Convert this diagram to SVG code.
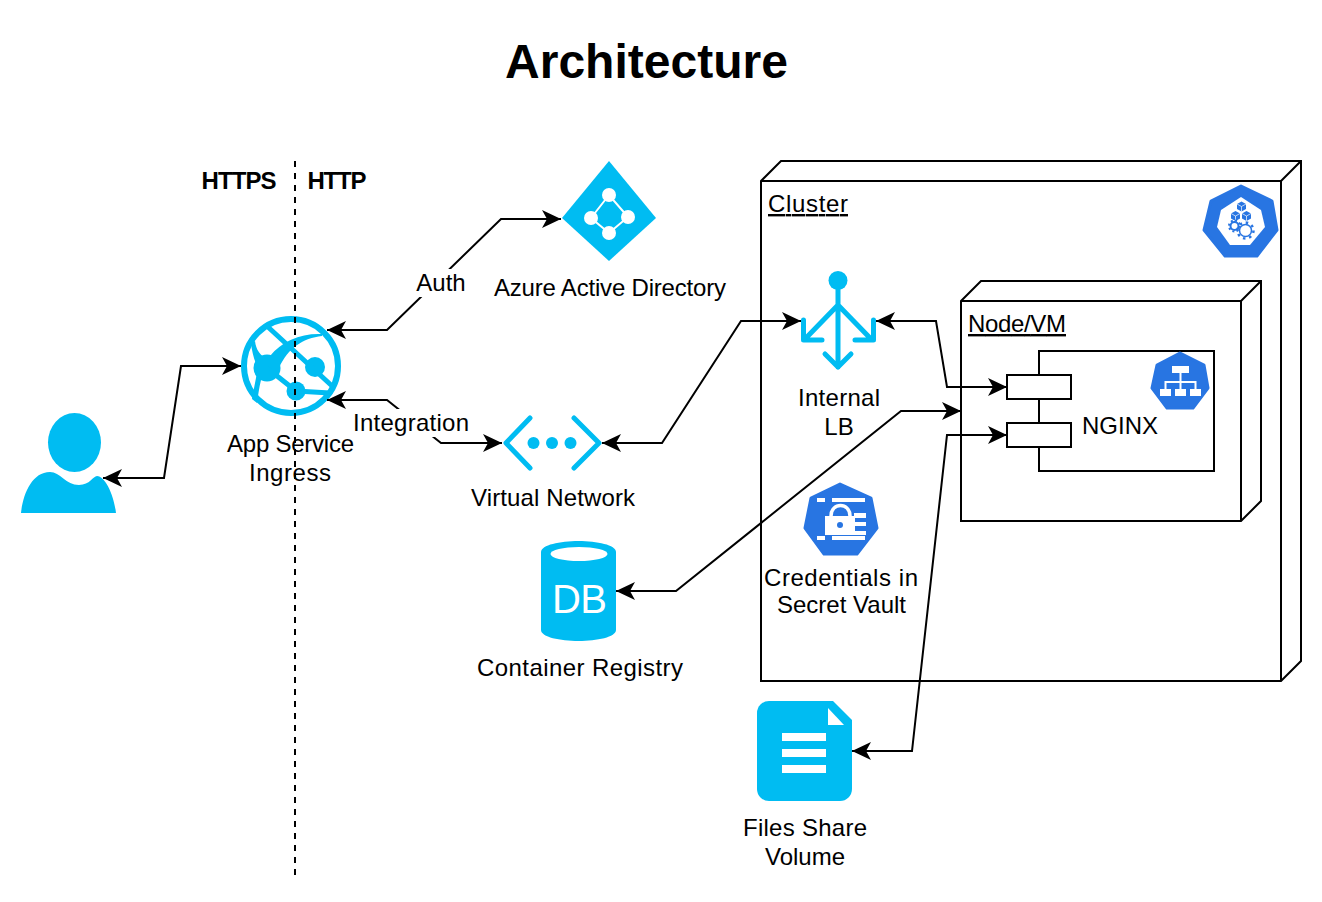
<svg xmlns="http://www.w3.org/2000/svg" width="1322" height="902" viewBox="0 0 1322 902">
<style>
text{font-family:"Liberation Sans",Arial,sans-serif;font-size:24px;fill:#000}
.c{text-anchor:middle}
.b{font-weight:bold}
.u{text-decoration:underline}
.box{fill:#fff;stroke:#000;stroke-width:2}
.open{fill:none;stroke:#000;stroke-width:2}
.edge{fill:none;stroke:#000;stroke-width:2;marker-start:url(#ah);marker-end:url(#ah)}
.az{fill:#00BCF2}
.azl{fill:none;stroke:#00BCF2;stroke-linecap:round;stroke-linejoin:round}
.k8s{fill:#2875E2;stroke:#2875E2;stroke-width:3;stroke-linejoin:round}
.kf{fill:#2875E2}
.w{fill:#fff}
.wl{fill:none;stroke:#fff;stroke-width:2}
</style>
<defs>
<marker id="ah" markerUnits="userSpaceOnUse" markerWidth="22" markerHeight="20" refX="20" refY="10" orient="auto-start-reverse" viewBox="0 0 22 20">
<path d="M1 1L20 10L1 19L6 10Z" fill="#000"/>
</marker>
</defs>
<rect width="1322" height="902" fill="#fff"/>
<text id="title" class="c b" x="646.500" y="78" style="font-size:48px" textLength="283" lengthAdjust="spacing">Architecture</text>

<g id="cluster">
<path class="box" d="M761 181L781 161H1301V661L1281 681H761Z"/>
<path class="open" d="M761 181H1281V681M1281 181L1301 161"/>
<text class="u" x="768" y="212" textLength="80">Cluster</text>
</g>
<g id="cluster-icon">
<path class="k8s" d="M1241 186L1272 201L1277 230L1257 256H1225L1204 230L1211 201Z"/>
<path class="w" d="M1241 197L1261 210L1265 227L1250 245H1230L1217 227L1221 210Z"/>
<g class="kf">
<path d="M1241.500 201.500L1246 204V209L1241.500 211.500L1237 209V204Z"/>
<path d="M1235.500 211L1240 213.500V218.500L1235.500 221L1231 218.500V213.500Z"/>
<path d="M1246.500 211L1251 213.500V218.500L1246.500 221L1242 218.500V213.500Z"/>
</g>
<path class="wl" style="stroke-width:.7" d="M1237 204L1241.500 206.500L1246 204M1241.500 206.500V211.500M1231 213.500L1235.500 216L1240 213.500M1235.500 216V221M1242 213.500L1246.500 216L1251 213.500M1246.500 216V221"/>
<circle cx="1234.500" cy="226" r="4" fill="#fff" stroke="#2875E2" stroke-width="2"/>
<circle cx="1234.500" cy="226" r="5.500" fill="none" stroke="#2875E2" stroke-width="2" stroke-dasharray="2 2.300"/>
<circle cx="1245.500" cy="230.500" r="6" fill="#fff" stroke="#2875E2" stroke-width="1.500"/>
<circle cx="1245.500" cy="230.500" r="8" fill="none" stroke="#2875E2" stroke-width="2.500" stroke-dasharray="2.500 3.780"/>
</g>
<g id="node-vm">
<path class="box" d="M961 301L981 281H1261V501L1241 521H961Z"/>
<path class="open" d="M961 301H1241V521M1241 301L1261 281"/>
<text class="u" x="968" y="332" textLength="98">Node/VM</text>
</g>
<g id="nginx">
<rect class="box" x="1039" y="351" width="175" height="120"/>
<rect class="box" x="1007" y="375" width="64" height="24"/>
<rect class="box" x="1007" y="423" width="64" height="24"/>
<text x="1082" y="434">NGINX</text>
</g>
<g id="nginx-icon">
<path class="k8s" d="M1180 353L1204 365L1208 388L1193 408H1167L1152 388L1157 365Z"/>
<rect class="w" x="1172" y="366" width="17" height="7"/>
<rect class="w" x="1160" y="389" width="11" height="7"/>
<rect class="w" x="1175" y="389" width="11" height="7"/>
<rect class="w" x="1190" y="389" width="11" height="7"/>
<path class="wl" d="M1180.500 373V389M1165.500 389V382H1195.500V389"/>
</g>
<g id="secret-icon">
<path class="k8s" d="M840 484L871 498L877 528L857 554H824L805 528L811 498Z"/>
<rect class="w" x="817" y="498" width="8" height="4"/>
<rect class="w" x="832" y="498" width="33" height="4"/>
<rect class="w" x="817" y="536" width="8" height="4"/>
<rect class="w" x="832" y="536" width="33" height="4"/>
<path d="M831 516C831 502 850 502 850 516" fill="none" stroke="#fff" stroke-width="3.500"/>
<rect class="w" x="825" y="516" width="30" height="19"/>
<rect class="w" x="854" y="513" width="12" height="5"/>
<rect class="w" x="854" y="522" width="12" height="4"/>
<rect class="w" x="854" y="531" width="12" height="4"/>
<circle class="kf" cx="840" cy="525" r="3"/>
<text class="c" x="841" y="586" textLength="154">Credentials in</text>
<text class="c" x="841.500" y="613" textLength="129">Secret Vault</text>
</g>
<g id="internal-lb">
<circle class="az" cx="838" cy="280.500" r="9.500"/>
<path class="azl" stroke-width="5" d="M838 285V367M825 354L838 367L851 354M838 305L806 338M838 305L870 338M803.500 320V340H822M873.500 320V340H855"/>
<text class="c" x="839" y="406" textLength="82">Internal</text>
<text class="c" x="839" y="435">LB</text>
</g>
<g id="azure-ad">
<path class="az" d="M609 161L656 218L609 261L562 218Z"/>
<path class="wl" d="M609 195L591 218L609 233L628 217Z"/>
<circle class="w" cx="609" cy="195" r="7"/><circle class="w" cx="591" cy="218" r="7"/><circle class="w" cx="628" cy="217" r="7"/><circle class="w" cx="609" cy="233" r="7"/>
<text class="c" x="610" y="296" textLength="232">Azure Active Directory</text>
</g>
<g id="virtual-network">
<path class="azl" stroke-width="5" d="M530 418L506 443L530 468M574 418L599 443L574 468"/>
<circle class="az" cx="533.500" cy="443" r="6"/><circle class="az" cx="552" cy="443" r="6"/><circle class="az" cx="570.500" cy="443" r="6"/>
<text class="c" x="553" y="506" textLength="164">Virtual Network</text>
</g>
<g id="container-registry">
<path class="az" d="M541 552C541 545 560 541 578.500 541S616 545 616 552V630C616 637 597 641 578.500 641S541 637 541 630Z"/>
<ellipse class="w" cx="579" cy="554" rx="28.500" ry="7"/>
<text x="552" y="613" style="font-size:40px;fill:#fff" textLength="55">DB</text>
<text class="c" x="580" y="676" textLength="206">Container Registry</text>
</g>
<g id="files-share">
<path class="az" d="M769 701H833L852 720V789A12 12 0 0 1 840 801H769A12 12 0 0 1 757 789V713A12 12 0 0 1 769 701Z"/>
<path class="w" d="M828 708L844 725H828Z"/>
<rect class="w" x="782" y="733" width="44" height="8"/><rect class="w" x="782" y="749" width="44" height="8"/><rect class="w" x="782" y="765" width="44" height="8"/>
<text class="c" x="805" y="836" textLength="124">Files Share</text>
<text class="c" x="805" y="865" textLength="80">Volume</text>
</g>
<g id="user">
<ellipse class="az" cx="74.500" cy="442.500" rx="26.500" ry="29.500"/>
<path class="az" d="M21 513C23 494 32 472 50 472C60 472 66 485 79 485C90 485 93 476 97 476C105 476 114 495 116 513Z"/>
</g>
<g id="app-service">
<circle cx="291" cy="366" r="47" fill="none" stroke="#00BCF2" stroke-width="6"/>
<circle class="az" cx="267" cy="368" r="13.500"/><circle class="az" cx="315" cy="367" r="10"/><circle class="az" cx="296" cy="391" r="9.500"/>
<path class="azl" stroke-width="5" d="M268 327L331 385M267 368L296 391L330 393"/>
<path class="az" d="M251 343L255 341C256 350 260 355 268 360L270 380L261 380C259 388 258 396 257 403L252 399C254 388 256 378 258 368C254 360 252 352 251 343Z"/>
<path class="az" d="M270 356C282 341 301 333 322 334L322 336C303 338 288 348 279 368Z"/>
<text class="c" x="290.500" y="452" textLength="127">App Service</text>
<text class="c" x="290" y="481" textLength="82">Ingress</text>
</g>
<g id="boundary">
<path d="M295 161V875" stroke="#000" stroke-width="2" stroke-dasharray="6 6" fill="none"/>
<text class="c b" x="239" y="189" textLength="75">HTTPS</text>
<text class="c b" x="337" y="189" textLength="59">HTTP</text>
</g>
<g id="connectors">
<path class="edge" d="M103 478H164L181 366H241"/>
<path class="edge" d="M327 330H387L501 219H561"/>
<path class="edge" d="M327 400H387L441 443H502"/>
<path class="edge" d="M602 443H662L741 321H801"/>
<path class="edge" d="M876 321H936L947 387H1007"/>
<path class="edge" d="M616 591H676L901 411H961"/>
<path class="edge" d="M852 751H912L947 435H1007"/>
<rect x="416" y="269" width="50" height="28" fill="#fff"/>
<text class="c" x="441" y="291">Auth</text>
<rect x="352" y="409" width="118" height="28" fill="#fff"/>
<text class="c" x="411" y="431" textLength="116">Integration</text>
</g>
</svg>
